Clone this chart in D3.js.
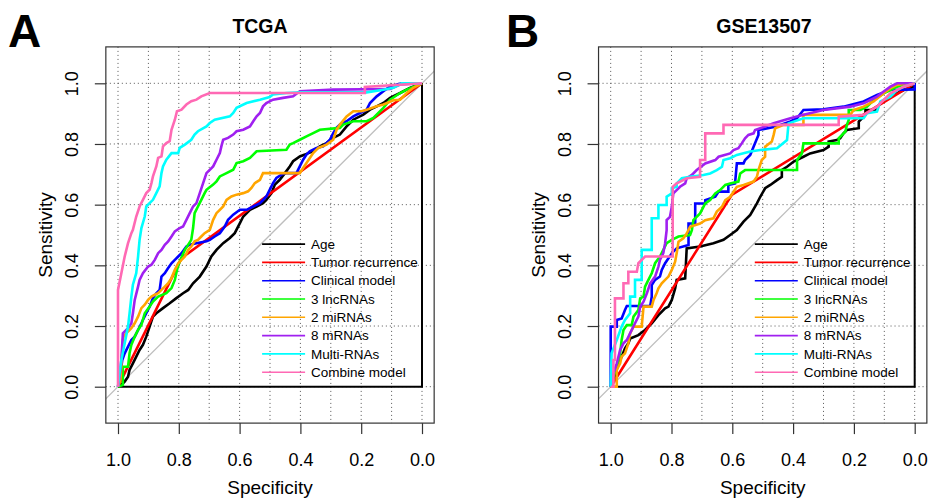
<!DOCTYPE html>
<html><head><meta charset="utf-8">
<script src="https://cdn.jsdelivr.net/npm/d3@7"></script>
<style>body{margin:0;background:#fff}svg{display:block}text{font-family:"Liberation Sans",Arial,Helvetica,sans-serif}</style>
</head><body><svg id="chart" width="928" height="498"></svg>
<script>
// ---- data: [specificity, sensitivity] ----
const seriesNames = ["Age","Tumor recurrence","Clinical model","3 lncRNAs","2 miRNAs","8 mRNAs","Multi-RNAs","Combine model"];
const seriesColors = ["#000000","#FF0000","#0000FF","#00FF00","#FFA500","#A020F0","#00FFFF","#FF69B4"];
const xTickLabels = [1.0,0.8,0.6,0.4,0.2,0.0];
const yTickLabels = [0.0,0.2,0.4,0.6,0.8,1.0];
const panelTitles = ["TCGA","GSE13507"];
const panelLetters = ["A","B"];

const tcgaAge = [[1,0],[0.989,0.006],[0.978,0.017],[0.967,0.033],[0.962,0.055],[0.951,0.077],[0.940,0.099],[0.929,0.121],[0.918,0.138],[0.907,0.165],[0.896,0.198],[0.885,0.231],[0.874,0.242],[0.852,0.259],[0.830,0.275],[0.808,0.292],[0.786,0.308],[0.769,0.319],[0.753,0.341],[0.731,0.363],[0.709,0.396],[0.693,0.429],[0.676,0.451],[0.654,0.473],[0.632,0.490],[0.616,0.506],[0.599,0.539],[0.588,0.561],[0.566,0.583],[0.544,0.594],[0.523,0.605],[0.512,0.616],[0.495,0.638],[0.484,0.666],[0.468,0.682],[0.451,0.704],[0.435,0.726],[0.424,0.743],[0.402,0.759],[0.385,0.765],[0.374,0.770],[0.358,0.776],[0.336,0.792],[0.314,0.803],[0.292,0.820],[0.270,0.831],[0.248,0.858],[0.226,0.880],[0.193,0.897],[0.171,0.913],[0.149,0.924],[0.127,0.935],[0.105,0.952],[0.072,0.968],[0.040,0.985],[0,1]];
const tcgaTumor = [[1,0],[0.791,0.424],[0,1]];
const tcgaClinical = [[1,0],[0.992,0.044],[0.986,0.088],[0.978,0.110],[0.967,0.132],[0.956,0.154],[0.945,0.165],[0.934,0.187],[0.923,0.209],[0.918,0.220],[0.907,0.242],[0.896,0.264],[0.885,0.292],[0.874,0.308],[0.863,0.319],[0.857,0.363],[0.846,0.374],[0.835,0.391],[0.824,0.407],[0.813,0.418],[0.802,0.429],[0.791,0.440],[0.775,0.462],[0.764,0.468],[0.742,0.473],[0.709,0.479],[0.698,0.484],[0.682,0.495],[0.665,0.506],[0.649,0.528],[0.638,0.550],[0.621,0.567],[0.599,0.583],[0.577,0.583],[0.555,0.594],[0.533,0.605],[0.512,0.627],[0.501,0.649],[0.490,0.671],[0.479,0.688],[0.462,0.699],[0.446,0.704],[0.413,0.704],[0.402,0.726],[0.391,0.748],[0.380,0.765],[0.369,0.776],[0.347,0.787],[0.325,0.792],[0.314,0.803],[0.303,0.814],[0.292,0.836],[0.281,0.853],[0.270,0.864],[0.248,0.875],[0.226,0.891],[0.204,0.902],[0.182,0.913],[0.171,0.935],[0.149,0.957],[0.127,0.974],[0.105,0.990],[0.067,1],[0,1]];
const tcgaLnc = [[1,0],[0.984,0.006],[0.984,0.066],[0.967,0.066],[0.962,0.110],[0.956,0.138],[0.945,0.165],[0.934,0.187],[0.923,0.204],[0.912,0.242],[0.896,0.264],[0.885,0.281],[0.868,0.297],[0.841,0.308],[0.824,0.325],[0.813,0.352],[0.806,0.385],[0.797,0.413],[0.780,0.451],[0.759,0.484],[0.753,0.523],[0.748,0.572],[0.737,0.594],[0.726,0.616],[0.715,0.638],[0.709,0.649],[0.687,0.666],[0.676,0.677],[0.665,0.693],[0.643,0.704],[0.621,0.715],[0.610,0.737],[0.588,0.743],[0.566,0.754],[0.555,0.765],[0.544,0.776],[0.446,0.781],[0.435,0.798],[0.424,0.803],[0.402,0.814],[0.380,0.825],[0.358,0.836],[0.336,0.847],[0.270,0.853],[0.259,0.864],[0.226,0.875],[0.182,0.875],[0.160,0.886],[0.127,0.919],[0.105,0.946],[0.072,0.968],[0.050,0.979],[0,1]];
const tcgaMi = [[1,0],[0.992,0.022],[0.984,0.154],[0.981,0.167],[0.967,0.182],[0.956,0.193],[0.945,0.209],[0.934,0.231],[0.923,0.259],[0.912,0.270],[0.901,0.286],[0.890,0.297],[0.879,0.303],[0.868,0.308],[0.857,0.319],[0.846,0.330],[0.835,0.341],[0.824,0.358],[0.813,0.385],[0.802,0.407],[0.791,0.418],[0.780,0.429],[0.769,0.451],[0.759,0.462],[0.748,0.479],[0.737,0.484],[0.726,0.495],[0.715,0.506],[0.698,0.517],[0.687,0.550],[0.676,0.572],[0.665,0.583],[0.654,0.594],[0.643,0.616],[0.627,0.627],[0.610,0.633],[0.588,0.638],[0.572,0.644],[0.561,0.655],[0.550,0.671],[0.533,0.682],[0.523,0.704],[0.402,0.704],[0.391,0.721],[0.380,0.737],[0.358,0.770],[0.341,0.787],[0.314,0.798],[0.292,0.814],[0.281,0.847],[0.270,0.864],[0.248,0.891],[0.226,0.908],[0.199,0.908],[0.182,0.913],[0.149,0.924],[0.127,0.930],[0.094,0.944],[0.072,0.946],[0.050,0.968],[0.029,0.985],[0,1]];
const tcgaM = [[1,0],[0.992,0.055],[0.989,0.088],[0.984,0.176],[0.967,0.193],[0.956,0.209],[0.951,0.242],[0.945,0.286],[0.934,0.330],[0.929,0.352],[0.918,0.374],[0.901,0.396],[0.890,0.402],[0.879,0.418],[0.868,0.440],[0.857,0.451],[0.846,0.468],[0.835,0.479],[0.824,0.495],[0.813,0.512],[0.797,0.523],[0.786,0.528],[0.775,0.550],[0.764,0.572],[0.753,0.594],[0.742,0.605],[0.731,0.638],[0.720,0.671],[0.709,0.704],[0.687,0.726],[0.676,0.748],[0.665,0.770],[0.660,0.792],[0.654,0.814],[0.638,0.820],[0.621,0.831],[0.610,0.842],[0.588,0.847],[0.566,0.858],[0.555,0.875],[0.544,0.891],[0.533,0.902],[0.523,0.924],[0.512,0.935],[0.490,0.946],[0.457,0.952],[0.424,0.957],[0.402,0.974],[0.292,0.979],[0.105,0.981],[0.072,0.996],[0,1]];
const tcgaMulti = [[1,0],[0.995,0.044],[0.989,0.088],[0.978,0.143],[0.967,0.198],[0.962,0.242],[0.956,0.297],[0.951,0.336],[0.940,0.374],[0.934,0.429],[0.929,0.484],[0.923,0.523],[0.912,0.561],[0.907,0.594],[0.896,0.605],[0.885,0.616],[0.874,0.638],[0.863,0.660],[0.857,0.704],[0.852,0.726],[0.841,0.748],[0.824,0.770],[0.802,0.770],[0.797,0.787],[0.780,0.798],[0.759,0.814],[0.748,0.831],[0.737,0.842],[0.709,0.858],[0.698,0.869],[0.682,0.880],[0.632,0.891],[0.621,0.902],[0.610,0.919],[0.577,0.935],[0.533,0.946],[0.501,0.955],[0.490,0.963],[0.446,0.968],[0.402,0.970],[0.182,0.970],[0.127,0.979],[0.094,0.985],[0.067,1],[0,1]];
const tcgaCombine = [[1,0],[1,0.319],[0.989,0.374],[0.978,0.429],[0.967,0.473],[0.956,0.506],[0.951,0.517],[0.940,0.561],[0.929,0.594],[0.918,0.616],[0.907,0.638],[0.896,0.649],[0.890,0.671],[0.885,0.693],[0.874,0.726],[0.868,0.754],[0.857,0.759],[0.852,0.792],[0.841,0.803],[0.830,0.809],[0.824,0.847],[0.813,0.880],[0.806,0.908],[0.791,0.913],[0.775,0.930],[0.759,0.941],[0.742,0.946],[0.726,0.957],[0.698,0.968],[0.188,0.968],[0.188,0.988],[0,1]];

const gseAge = [[1,0],[0.986,0.033],[0.975,0.077],[0.964,0.099],[0.953,0.126],[0.942,0.143],[0.936,0.159],[0.909,0.170],[0.887,0.187],[0.865,0.209],[0.843,0.236],[0.821,0.258],[0.810,0.264],[0.799,0.286],[0.788,0.324],[0.783,0.352],[0.755,0.357],[0.750,0.456],[0.706,0.462],[0.662,0.473],[0.629,0.484],[0.607,0.500],[0.585,0.516],[0.563,0.544],[0.541,0.566],[0.519,0.604],[0.508,0.626],[0.492,0.654],[0.475,0.665],[0.453,0.681],[0.437,0.692],[0.437,0.714],[0.420,0.725],[0.398,0.742],[0.366,0.758],[0.344,0.769],[0.300,0.780],[0.283,0.791],[0.283,0.808],[0.256,0.813],[0.245,0.819],[0.234,0.835],[0.223,0.846],[0.184,0.852],[0.184,0.874],[0.162,0.896],[0.162,0.912],[0.130,0.912],[0.113,0.934],[0.080,0.956],[0.036,0.978],[0,0.989],[0,1]];
const gseTumor = [[1,0],[0.602,0.632],[0,1]];
const gseClinical = [[1,0],[1,0.198],[0.980,0.198],[0.980,0.220],[0.964,0.225],[0.953,0.253],[0.947,0.266],[0.870,0.266],[0.865,0.297],[0.865,0.335],[0.854,0.352],[0.838,0.363],[0.832,0.385],[0.821,0.407],[0.810,0.423],[0.799,0.440],[0.783,0.456],[0.744,0.467],[0.744,0.538],[0.722,0.538],[0.722,0.604],[0.689,0.604],[0.689,0.615],[0.656,0.626],[0.645,0.643],[0.613,0.643],[0.613,0.665],[0.591,0.670],[0.585,0.736],[0.563,0.736],[0.558,0.747],[0.541,0.764],[0.530,0.791],[0.514,0.830],[0.514,0.846],[0.459,0.857],[0.409,0.874],[0.387,0.885],[0.366,0.912],[0.300,0.914],[0.234,0.923],[0.190,0.934],[0.168,0.940],[0.124,0.962],[0.080,0.978],[0,0.980],[0,1]];
const gseLnc = [[1,0],[0.991,0.033],[0.980,0.066],[0.969,0.110],[0.964,0.154],[0.958,0.187],[0.947,0.203],[0.931,0.203],[0.925,0.231],[0.909,0.253],[0.903,0.291],[0.892,0.297],[0.887,0.330],[0.876,0.352],[0.865,0.374],[0.854,0.407],[0.838,0.429],[0.816,0.473],[0.799,0.484],[0.777,0.495],[0.739,0.500],[0.733,0.516],[0.728,0.549],[0.706,0.571],[0.689,0.604],[0.673,0.615],[0.656,0.637],[0.640,0.648],[0.623,0.665],[0.607,0.670],[0.580,0.676],[0.574,0.703],[0.558,0.714],[0.387,0.714],[0.387,0.747],[0.371,0.769],[0.366,0.802],[0.250,0.802],[0.250,0.819],[0.228,0.841],[0.223,0.863],[0.217,0.879],[0.217,0.912],[0.179,0.912],[0.157,0.923],[0.135,0.945],[0.102,0.967],[0.080,0.978],[0.058,0.989],[0,1]];
const gseMi = [[1,0],[0.980,0],[0.980,0.055],[0.969,0.077],[0.964,0.099],[0.953,0.110],[0.942,0.143],[0.936,0.176],[0.925,0.198],[0.898,0.198],[0.892,0.264],[0.865,0.264],[0.859,0.286],[0.849,0.308],[0.843,0.324],[0.832,0.341],[0.821,0.352],[0.810,0.363],[0.799,0.385],[0.788,0.412],[0.783,0.440],[0.777,0.478],[0.761,0.489],[0.750,0.505],[0.739,0.527],[0.706,0.538],[0.689,0.549],[0.662,0.555],[0.651,0.577],[0.634,0.593],[0.623,0.615],[0.607,0.626],[0.585,0.659],[0.563,0.665],[0.530,0.676],[0.519,0.692],[0.514,0.714],[0.503,0.747],[0.492,0.758],[0.492,0.791],[0.470,0.808],[0.464,0.830],[0.459,0.852],[0.431,0.863],[0.366,0.863],[0.366,0.896],[0.212,0.896],[0.201,0.912],[0.168,0.923],[0.135,0.940],[0.102,0.967],[0.080,0.984],[0.058,0.995],[0,1]];
const gseM = [[1,0],[0.991,0.044],[0.980,0.077],[0.969,0.121],[0.958,0.143],[0.947,0.154],[0.931,0.187],[0.920,0.209],[0.909,0.231],[0.903,0.264],[0.892,0.280],[0.881,0.308],[0.870,0.341],[0.854,0.363],[0.843,0.396],[0.838,0.418],[0.827,0.440],[0.821,0.473],[0.816,0.516],[0.816,0.549],[0.805,0.560],[0.799,0.593],[0.794,0.637],[0.783,0.648],[0.772,0.659],[0.755,0.670],[0.750,0.687],[0.733,0.698],[0.717,0.714],[0.689,0.736],[0.656,0.747],[0.645,0.758],[0.607,0.769],[0.596,0.780],[0.580,0.786],[0.569,0.802],[0.558,0.819],[0.547,0.830],[0.530,0.835],[0.525,0.846],[0.508,0.852],[0.464,0.868],[0.409,0.885],[0.366,0.896],[0.300,0.912],[0.212,0.923],[0.168,0.934],[0.146,0.945],[0.124,0.956],[0.102,0.973],[0.080,0.989],[0.058,1],[0,1]];
const gseMulti = [[1,0],[0.997,0.110],[0.980,0.154],[0.964,0.198],[0.953,0.220],[0.936,0.242],[0.936,0.297],[0.920,0.297],[0.920,0.352],[0.898,0.352],[0.898,0.451],[0.865,0.451],[0.865,0.555],[0.843,0.555],[0.843,0.599],[0.816,0.599],[0.816,0.626],[0.799,0.637],[0.799,0.654],[0.783,0.659],[0.783,0.670],[0.766,0.687],[0.739,0.692],[0.695,0.698],[0.673,0.703],[0.651,0.714],[0.634,0.725],[0.629,0.747],[0.607,0.753],[0.585,0.764],[0.541,0.775],[0.508,0.780],[0.453,0.786],[0.420,0.813],[0.415,0.868],[0.366,0.885],[0.168,0.885],[0.157,0.901],[0.124,0.907],[0.113,0.940],[0.080,0.956],[0.058,0.978],[0.036,0.989],[0,1]];
const gseCombine = [[1,0],[0.991,0],[0.991,0.088],[0.986,0.088],[0.986,0.291],[0.958,0.291],[0.958,0.341],[0.942,0.341],[0.942,0.379],[0.914,0.379],[0.909,0.407],[0.887,0.429],[0.796,0.429],[0.796,0.659],[0.783,0.670],[0.750,0.687],[0.706,0.692],[0.706,0.747],[0.689,0.747],[0.689,0.835],[0.629,0.835],[0.629,0.863],[0.250,0.863],[0.250,0.890],[0.168,0.896],[0.124,0.923],[0.102,0.945],[0.080,0.967],[0.036,0.989],[0,1]];

const panelSeries = [
  [tcgaAge,tcgaTumor,tcgaClinical,tcgaLnc,tcgaMi,tcgaM,tcgaMulti,tcgaCombine],
  [gseAge,gseTumor,gseClinical,gseLnc,gseMi,gseM,gseMulti,gseCombine]
];

// ---- layout ----
const svg = d3.select("#chart");
const font = '"Liberation Sans",Arial,Helvetica,sans-serif';
const layouts = [
  {x1:118, x0:422, titleX:260, letterX:8},
  {x1:610.7, x0:914.7, titleX:764, letterX:506}
];
const yScale = d3.scaleLinear().domain([0,1]).range([386.7,83.3]);

layouts.forEach((L,pi)=>{
  const x = d3.scaleLinear().domain([1,0]).range([L.x1,L.x0]);
  const y = yScale;
  const bx0 = x(1.04), bx1 = x(-0.04), by0 = y(1.12), by1 = y(-0.12);
  const g = svg.append("g");
  const clipId = "clip"+pi;
  g.append("clipPath").attr("id",clipId).append("rect")
    .attr("x",bx0).attr("y",by0).attr("width",bx1-bx0).attr("height",by1-by0);

  // grid
  const gridG = g.append("g").attr("stroke","#555").attr("stroke-width",1).attr("stroke-dasharray","1,3");
  d3.range(0,11).forEach(i=>{
    const v = i/10;
    gridG.append("line").attr("x1",x(v)).attr("x2",x(v)).attr("y1",by0).attr("y2",by1);
  });
  d3.range(0,6).forEach(i=>{
    const v = i/5;
    gridG.append("line").attr("x1",bx0).attr("x2",bx1).attr("y1",y(v)).attr("y2",y(v));
  });

  // diagonal reference
  g.append("line").attr("clip-path",`url(#${clipId})`)
    .attr("x1",x(1.2)).attr("y1",y(-0.2)).attr("x2",x(-0.2)).attr("y2",y(1.2))
    .attr("stroke","#bebebe").attr("stroke-width",1.3);

  // solid frame lines at sens=0 and spec=0
  g.append("path").attr("d",`M${x(1)},${y(0)}L${x(0)},${y(0)}L${x(0)},${y(1)}`)
    .attr("fill","none").attr("stroke","#000").attr("stroke-width",2);

  // curves
  const line = d3.line().x(d=>x(d[0])).y(d=>y(d[1]));
  panelSeries[pi].forEach((data,si)=>{
    g.append("path").datum(data).attr("d",line).attr("clip-path",`url(#${clipId})`)
      .attr("fill","none").attr("stroke",seriesColors[si]).attr("stroke-width",2.6)
      .attr("stroke-linejoin","miter").attr("stroke-linecap","butt");
  });

  // box
  g.append("rect").attr("x",bx0).attr("y",by0).attr("width",bx1-bx0).attr("height",by1-by0)
    .attr("fill","none").attr("stroke","#333").attr("stroke-width",1.2);

  // x axis
  const xAxis = d3.axisBottom(x).tickValues(xTickLabels).tickSize(11).tickPadding(20).tickFormat(d3.format(".1f"));
  const xa = g.append("g").attr("transform",`translate(0,${by1})`).call(xAxis);
  xa.select(".domain").remove();
  xa.selectAll("line").attr("stroke","#333").attr("stroke-width",1.2);
  xa.selectAll("text").attr("font-family",font).attr("font-size",18).attr("fill","#000")
    .attr("dy",null).attr("y",null).attr("transform",null);
  xa.selectAll("text").attr("y",42.5);

  // y axis
  const yAxis = d3.axisLeft(y).tickValues(yTickLabels).tickSize(11).tickFormat(d3.format(".1f"));
  const ya = g.append("g").attr("transform",`translate(${bx0},0)`).call(yAxis);
  ya.select(".domain").remove();
  ya.selectAll("line").attr("stroke","#333").attr("stroke-width",1.2);
  ya.selectAll("text").attr("font-family",font).attr("font-size",18).attr("fill","#000")
    .attr("x",null).attr("dy",null).attr("text-anchor","middle")
    .attr("transform","translate(-27.5,0) rotate(-90)").attr("y",0);

  // axis titles
  g.append("text").attr("x",(L.x1+L.x0)/2).attr("y",494).attr("text-anchor","middle")
    .attr("font-family",font).attr("font-size",19).text("Specificity");
  g.append("text").attr("transform",`translate(${bx0-54},${(y(0)+y(1))/2}) rotate(-90)`)
    .attr("text-anchor","middle").attr("font-family",font).attr("font-size",19).text("Sensitivity");

  // title and letter
  g.append("text").attr("x",L.titleX).attr("y",33).attr("text-anchor","middle")
    .attr("font-family",font).attr("font-size",19.5).attr("font-weight","bold").text(panelTitles[pi]);
  g.append("text").attr("x",L.letterX).attr("y",47)
    .attr("font-family",font).attr("font-size",46).attr("font-weight","bold").text(panelLetters[pi]);

  // legend
  const lx = x(0.526), ly = y(0.470), step = 18.3;
  seriesNames.forEach((name,si)=>{
    const yy = ly + si*step;
    g.append("line").attr("x1",lx).attr("x2",lx+43).attr("y1",yy).attr("y2",yy)
      .attr("stroke",seriesColors[si]).attr("stroke-width",1.6);
    g.append("text").attr("x",lx+49).attr("y",yy).attr("dy","0.35em")
      .attr("font-family",font).attr("font-size",13.5).attr("fill","#000").text(name);
  });
});
</script></body></html>
